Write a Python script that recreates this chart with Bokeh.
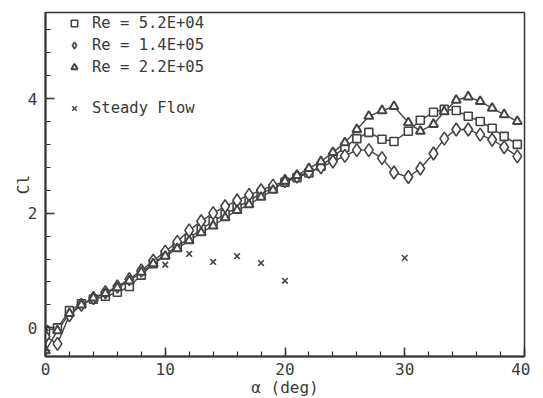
from bokeh.plotting import figure
from bokeh.models import Range1d, Legend, LegendItem, FixedTicker
from bokeh.embed import file_html
from bokeh.resources import INLINE

# ---- data ----
alpha = [0, 1, 2, 3, 4, 5, 6, 7, 8, 9, 10, 11, 12, 13, 14, 15, 16, 17, 18, 19,
         20, 21, 22, 23, 24, 25, 26.0, 27.0, 28.1, 29.1, 30.3, 31.3, 32.4, 33.3,
         34.3, 35.3, 36.3, 37.3, 38.3, 39.4]

cl_re52 = [-0.05, 0.00, 0.30, 0.42, 0.50, 0.55, 0.62, 0.72, 0.92, 1.12,
           1.28, 1.42, 1.56, 1.72, 1.86, 1.98, 2.10, 2.22, 2.34, 2.44,
           2.54, 2.62, 2.70, 2.82, 2.98, 3.15, 3.30, 3.41, 3.29, 3.25,
           3.43, 3.62, 3.76, 3.81, 3.79, 3.69, 3.60, 3.48, 3.34, 3.20]

cl_re140 = [-0.15, -0.28, 0.22, 0.40, 0.52, 0.62, 0.72, 0.85, 1.00, 1.17,
            1.33, 1.50, 1.70, 1.86, 2.00, 2.12, 2.22, 2.32, 2.40, 2.48,
            2.56, 2.64, 2.72, 2.80, 2.90, 3.00, 3.10, 3.10, 2.96, 2.71,
            2.63, 2.78, 3.04, 3.30, 3.46, 3.46, 3.37, 3.28, 3.15, 2.99]

cl_re220 = [-0.40, -0.05, 0.25, 0.40, 0.52, 0.60, 0.70, 0.82, 0.97, 1.12,
            1.25, 1.38, 1.52, 1.66, 1.78, 1.92, 2.05, 2.15, 2.28, 2.40,
            2.56, 2.66, 2.78, 2.90, 3.06, 3.23, 3.46, 3.69, 3.79, 3.86,
            3.58, 3.43, 3.55, 3.77, 3.97, 4.03, 3.95, 3.83, 3.72, 3.60]

steady_alpha = [0, 10, 12, 14, 16, 18, 20, 30]
steady_cl = [0.0, 1.10, 1.29, 1.15, 1.25, 1.13, 0.82, 1.22]

labels = ["Re = 5.2E+04", "Re = 1.4E+05", "Re = 2.2E+05", "Steady Flow"]
x_major = [0, 10, 20, 30, 40]
y_major = [0, 2, 4]

INK = "#444444"
TXT = "#3a3a3a"
FONT = "DejaVu Sans Mono"

p = figure(frame_width=479, frame_height=344, output_backend="svg",
           toolbar_location=None, x_range=Range1d(0, 40),
           y_range=Range1d(-0.5, 5.5),
           min_border_left=45, min_border_right=6, min_border_top=12,
           min_border_bottom=26)
p.background_fill_color = "white"
p.border_fill_color = "white"
p.grid.visible = False
p.outline_line_color = "#333333"
p.outline_line_width = 1.5

# lines
for ys in (cl_re52, cl_re140, cl_re220):
    p.line(alpha, ys, line_color=INK, line_width=1.4)

r_sq = p.scatter(alpha, cl_re52, marker="square", size=8, fill_color="white",
                 line_color=INK, line_width=1.6)
r_di = p.scatter(alpha, cl_re140, marker="diamond", size=13, fill_color="white",
                 line_color=INK, line_width=1.6)
r_tr = p.scatter(alpha, cl_re220, marker="triangle", size=9, fill_color="white",
                 line_color=INK, line_width=2.0)
r_x = p.scatter(steady_alpha, steady_cl, marker="x", size=8, line_color=INK,
                line_width=1.6)

# axes
for ax in (p.xaxis[0], p.yaxis[0]):
    ax.axis_line_color = "#333333"
    ax.axis_line_width = 2
    ax.major_tick_line_color = "#333333"
    ax.minor_tick_line_color = "#333333"
    ax.major_tick_line_width = 1.5
    ax.minor_tick_line_width = 1.2
    ax.major_tick_in = 9
    ax.major_tick_out = 0
    ax.minor_tick_in = 5
    ax.minor_tick_out = 0
    ax.major_label_text_font = FONT
    ax.major_label_text_font_size = "16px"
    ax.major_label_text_color = TXT
    ax.axis_label_text_font = FONT
    ax.axis_label_text_font_size = "16px"
    ax.axis_label_text_font_style = "normal"
    ax.axis_label_text_color = TXT

p.xaxis.ticker = FixedTicker(ticks=x_major,
                             minor_ticks=[v for v in range(0, 41, 2)])
p.yaxis.ticker = FixedTicker(ticks=y_major,
                             minor_ticks=[round(-0.4 + 0.4 * i, 1) for i in range(15)])
p.xaxis.axis_label = "\u03b1 (deg)"
p.yaxis.axis_label = "Cl"
p.xaxis.major_label_standoff = 6
p.xaxis.axis_label_standoff = 0
p.yaxis.major_label_standoff = 8
p.yaxis.axis_label_standoff = -8

leg1 = Legend(items=[LegendItem(label=labels[0], renderers=[r_sq]),
                     LegendItem(label=labels[1], renderers=[r_di]),
                     LegendItem(label=labels[2], renderers=[r_tr])],
              location=(21, 280))
leg2 = Legend(items=[LegendItem(label=labels[3], renderers=[r_x])],
              location=(21, 239))
for lg in (leg1, leg2):
    lg.background_fill_alpha = 0
    lg.border_line_color = None
    lg.padding = 0
    lg.margin = 0
    lg.spacing = 4
    lg.glyph_width = 16
    lg.glyph_height = 16
    lg.label_height = 16
    lg.label_standoff = 10
    lg.label_text_font = FONT
    lg.label_text_font_size = "15.5px"
    lg.label_text_color = TXT
    p.add_layout(lg)

open("out.html", "w").write(file_html(p, INLINE))
